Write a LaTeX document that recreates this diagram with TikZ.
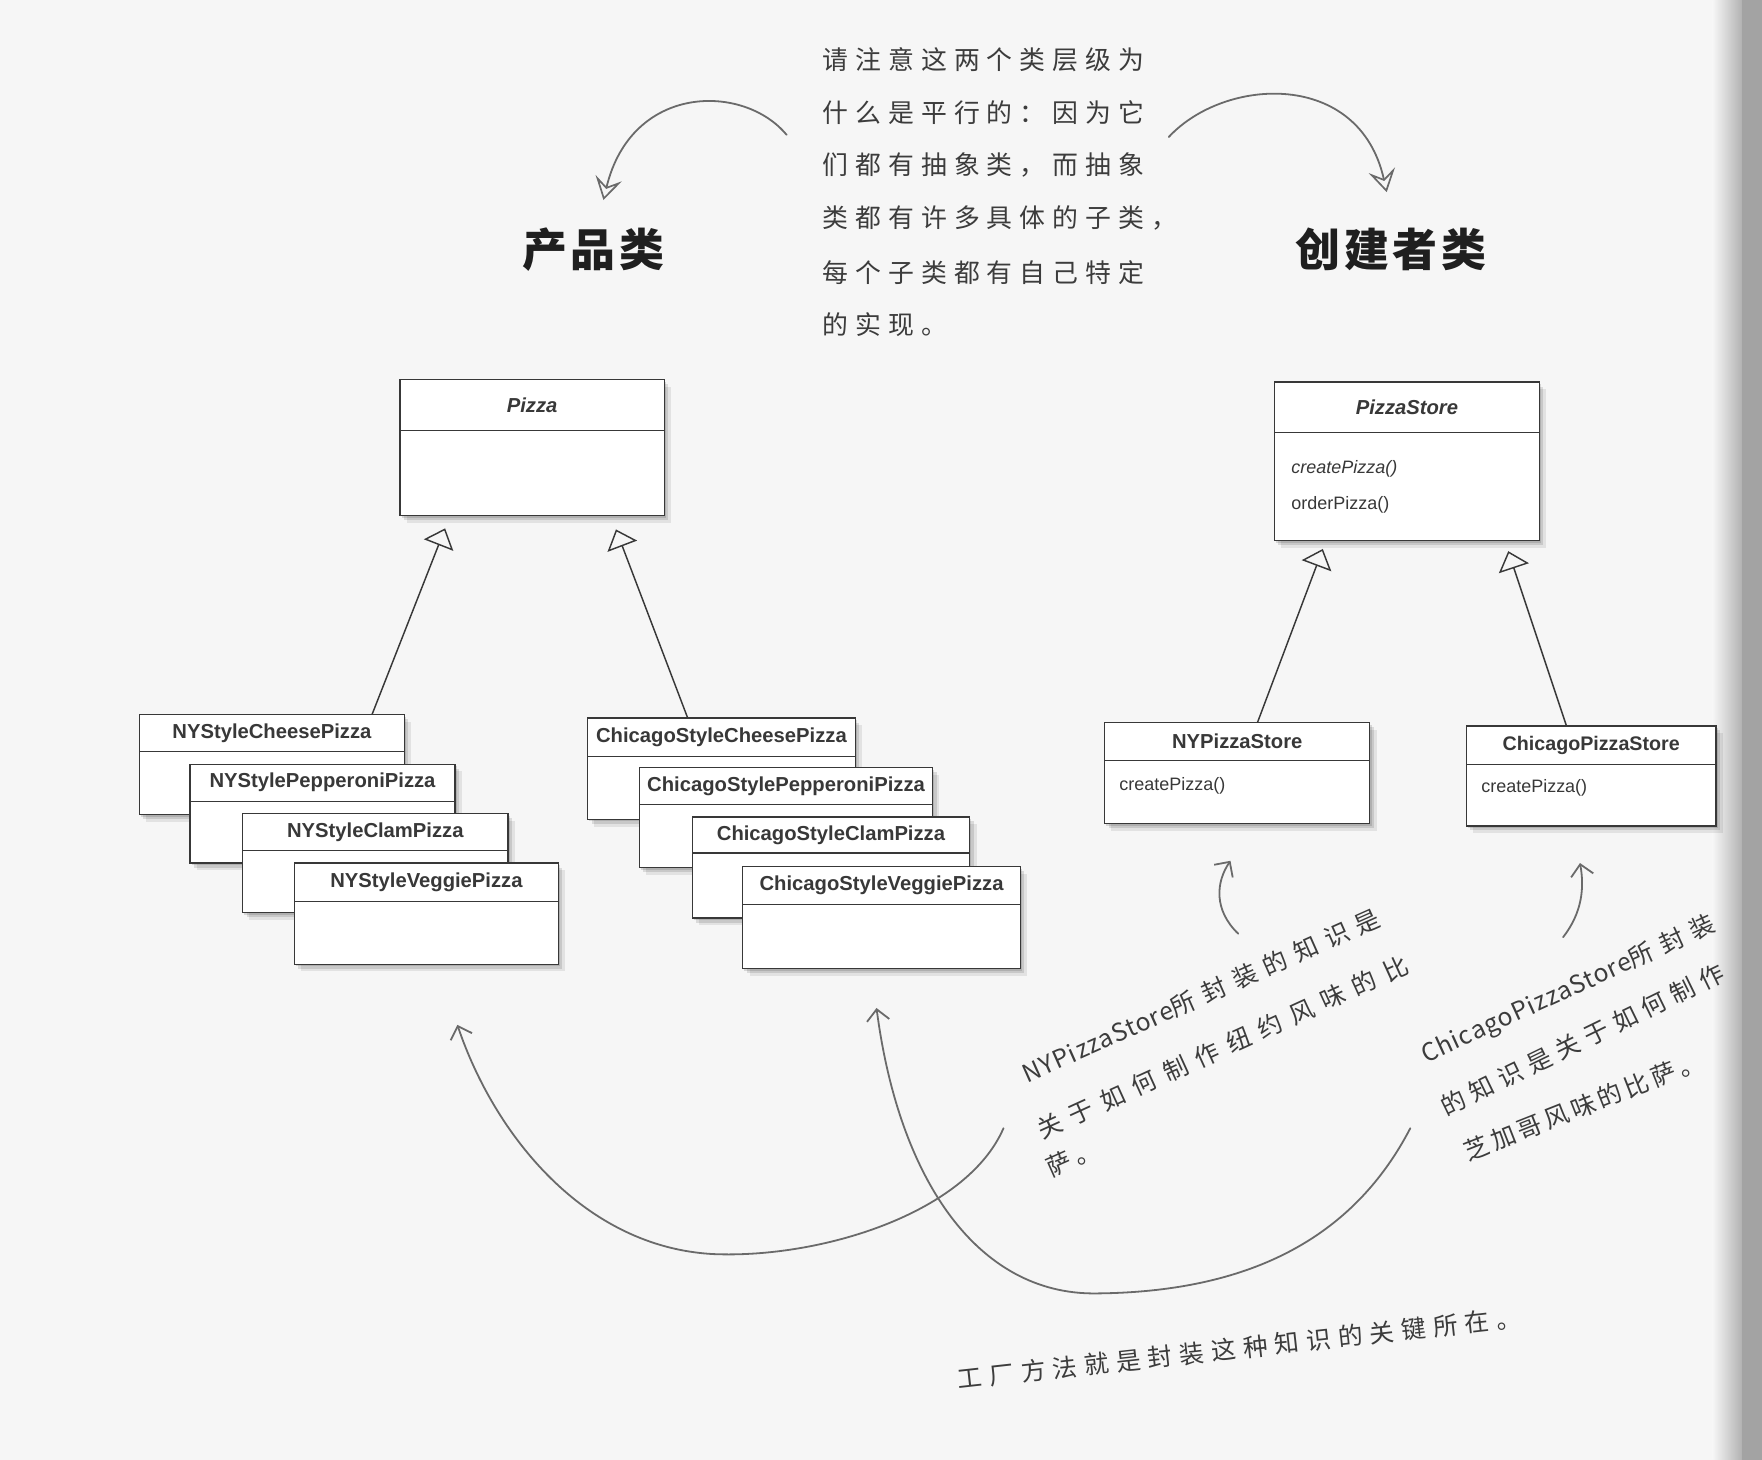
\documentclass[tikz,border=0pt]{standalone}
\usepackage{fontspec}
\setmainfont{Liberation Sans}
\newfontfamily\cjk{Noto Sans CJK SC}
\usetikzlibrary{arrows.meta,shadows,calc}
\definecolor{bg}{HTML}{F6F6F6}
\definecolor{ink}{HTML}{383838}
\definecolor{pen}{HTML}{6A6A6A}
\definecolor{hand}{HTML}{3C3C3C}

\tikzset{
  x=1pt, y=-1pt,
  softshadow/.style={
    general shadow={draw=none, fill=black, opacity=.13, shadow xshift=1.5pt, shadow yshift=-2pt},
    general shadow={draw=none, fill=black, opacity=.11, shadow xshift=3.5pt, shadow yshift=-4pt},
    general shadow={draw=none, fill=black, opacity=.08, shadow xshift=6pt, shadow yshift=-6.5pt}},
  cls/.style={draw=ink, line width=1.1pt, fill=white, anchor=north west, inner sep=0pt, outer sep=0pt, softshadow},
  sepline/.style={draw=ink, line width=1.1pt},
  ctitle/.style={text=ink, inner sep=0pt, font=\bfseries\fontsize{18}{20}\selectfont},
  meth/.style={text=ink, inner sep=0pt, anchor=west, font=\fontsize{16}{18}\selectfont},
  inh/.style={draw=ink, line width=1.3pt, -{Triangle[open, length=16pt, width=28pt, line width=1.3pt]}},
  ann/.style={draw=pen, line width=1.6pt, line cap=round},
  barb/.style={-{Straight Barb[length=10pt, width=20pt, line width=1.6pt]}},
  hollow/.style={-{Stealth[open, length=20pt, width=24pt, inset=8pt, line width=1.5pt]}},
  head/.style={text=black!88, inner sep=0pt, font=\cjk\bfseries\fontsize{40}{44}\selectfont\addfontfeature{LetterSpace=8}},
  note/.style={text=hand, inner sep=0pt, anchor=west, font=\cjk\fontsize{23}{26}\selectfont\addfontfeature{LetterSpace=27}},
  handtxt/.style={text=hand, inner sep=0pt, font=\cjk\fontsize{22}{26}\selectfont\addfontfeature{LetterSpace=#1}},
}

\newcommand\umlbox[7]{%
  \node[cls, minimum width=#4pt, minimum height=#5pt] (#1) at (#2,#3) {};
  \draw[sepline] ($(#1.north west)+(0,#6)$) -- ($(#1.north east)+(0,#6)$);
  \node[ctitle] (#1-t) at ($(#1.north)+(0,#6/2)$) {#7};
}

\begin{document}
\begin{tikzpicture}
\fill[bg] (0,0) rectangle (1568,1299);
\useasboundingbox (0,0) rectangle (1568,1299);
% page edge shading
\shade[left color=bg, right color=black!30] (1524,0) rectangle (1550,1299);
\fill[black!36] (1550,0) rectangle (1568,1299);

% headings
\node[head] (h1) at (528,222) {产品类};
\node[head] (h2) at (1238,222) {创建者类};

% note
\node[note] (n1) at (732,53) {请注意这两个类层级为};
\node[note] (n2) at (732,100) {什么是平行的：因为它};
\node[note] (n3) at (732,147) {们都有抽象类，而抽象};
\node[note] (n4) at (732,194) {类都有许多具体的子类，};
\node[note] (n5) at (732,243) {每个子类都有自己特定};
\node[note] (n6) at (732,289) {的实现。};

% abstract classes
\umlbox{pizza}{356}{338}{235}{121}{45}{\itshape Pizza}
\umlbox{pizzastore}{1134}{340}{236}{141}{45}{\itshape PizzaStore}
\node[meth, font=\itshape\fontsize{16}{18}\selectfont] (ps-m1) at ($(pizzastore.north west)+(15,77)$) {createPizza()};
\node[meth] (ps-m2) at ($(pizzastore.north west)+(15,109)$) {orderPizza()};

% NY pizzas
\umlbox{nycheese}{124}{636}{236}{89}{33}{NYStyleCheesePizza}
\umlbox{nypep}{169}{680}{236}{88}{33}{NYStylePepperoniPizza}
\umlbox{nyclam}{216}{724}{236}{88}{33}{NYStyleClamPizza}
\umlbox{nyveg}{262}{768}{235}{90}{34}{NYStyleVeggiePizza}

% Chicago pizzas
\umlbox{chcheese}{523}{639}{238}{90}{34}{ChicagoStyleCheesePizza}
\umlbox{chpep}{569}{683}{261}{89}{33}{ChicagoStylePepperoniPizza}
\umlbox{chclam}{616}{727}{247}{90}{32}{ChicagoStyleClamPizza}
\umlbox{chveg}{661}{771}{247}{91}{34}{ChicagoStyleVeggiePizza}

% stores
\umlbox{nystore}{983}{643}{236}{90}{34}{NYPizzaStore}
\node[meth] (ny-m1) at ($(nystore.north west)+(13,56)$) {createPizza()};
\umlbox{chstore}{1305}{646}{222}{89}{34}{\fontsize{17.5}{20}\selectfont ChicagoPizzaStore}
\node[meth] (ch-m1) at ($(chstore.north west)+(13,55)$) {createPizza()};

% inheritance
\draw[inh, shorten >=12pt] ([xshift=89pt]nycheese.north) -- ([xshift=-73pt]pizza.south);
\draw[inh, shorten >=13pt] ([xshift=-30pt]chcheese.north) -- ([xshift=70pt]pizza.south);
\draw[inh, shorten >=8pt] ([xshift=18pt]nystore.north) -- ([xshift=-72pt]pizzastore.south);
\draw[inh, shorten >=10pt] ([xshift=-22pt]chstore.north) -- ([xshift=87pt]pizzastore.south);

% annotations
\node[handtxt=36, rotate=24] (a1) at (1069,886) {{\addfontfeature{LetterSpace=4}NYPizzaStore}所封装的知识是};
\node[handtxt=40, rotate=24.5] (a2) at (1088,932) {关于如何制作纽约风味的比};
\node[handtxt=20, rotate=24, anchor=west] (a3) at (932,1040) {萨。};

\node[handtxt=36, rotate=24.6] (b1) at (1396,881) {{\addfontfeature{LetterSpace=4}ChicagoPizzaStore}所封装};
\node[handtxt=29, rotate=26] (b2) at (1408,925) {的知识是关于如何制作};
\node[handtxt=16, rotate=21.5] (b3) at (1409,984) {芝加哥风味的比萨。};

\node[handtxt=29, rotate=6.3] (c1) at (1103,1200) {工厂方法就是封装这种知识的关键所在。};

% curved arrows
\coordinate (t1s) at (700,120); \coordinate (t1e) at (537,178);
\draw[ann, hollow] (t1s) .. controls (662,74) and (562,74) .. (t1e);
\coordinate (t2s) at (1040,122); \coordinate (t2e) at (1234,171);
\draw[ann, hollow] (t2s) .. controls (1090,68) and (1210,62) .. (t2e);

\coordinate (u1s) at (1102,831); \coordinate (u1e) at (1095,766);
\draw[ann, barb] (u1s) .. controls (1080,810) and (1082,785) .. (u1e);
\coordinate (u2s) at (1391,834); \coordinate (u2e) at (1406,768);
\draw[ann, barb] (u2s) .. controls (1408,812) and (1410,790) .. (u2e);

\coordinate (v1s) at (893,1004); \coordinate (v1m) at (635,1116); \coordinate (v1e) at (407,912);
\draw[ann, barb] (v1s) .. controls (860,1080) and (730,1120) .. (v1m) .. controls (520,1110) and (440,1010) .. (v1e);
\coordinate (v2s) at (1255,1004); \coordinate (v2m) at (975,1151); \coordinate (v2e) at (780,897);
\draw[ann, barb] (v2s) .. controls (1200,1110) and (1100,1150) .. (v2m) .. controls (870,1152) and (800,1050) .. (v2e);
\end{tikzpicture}
\end{document}
